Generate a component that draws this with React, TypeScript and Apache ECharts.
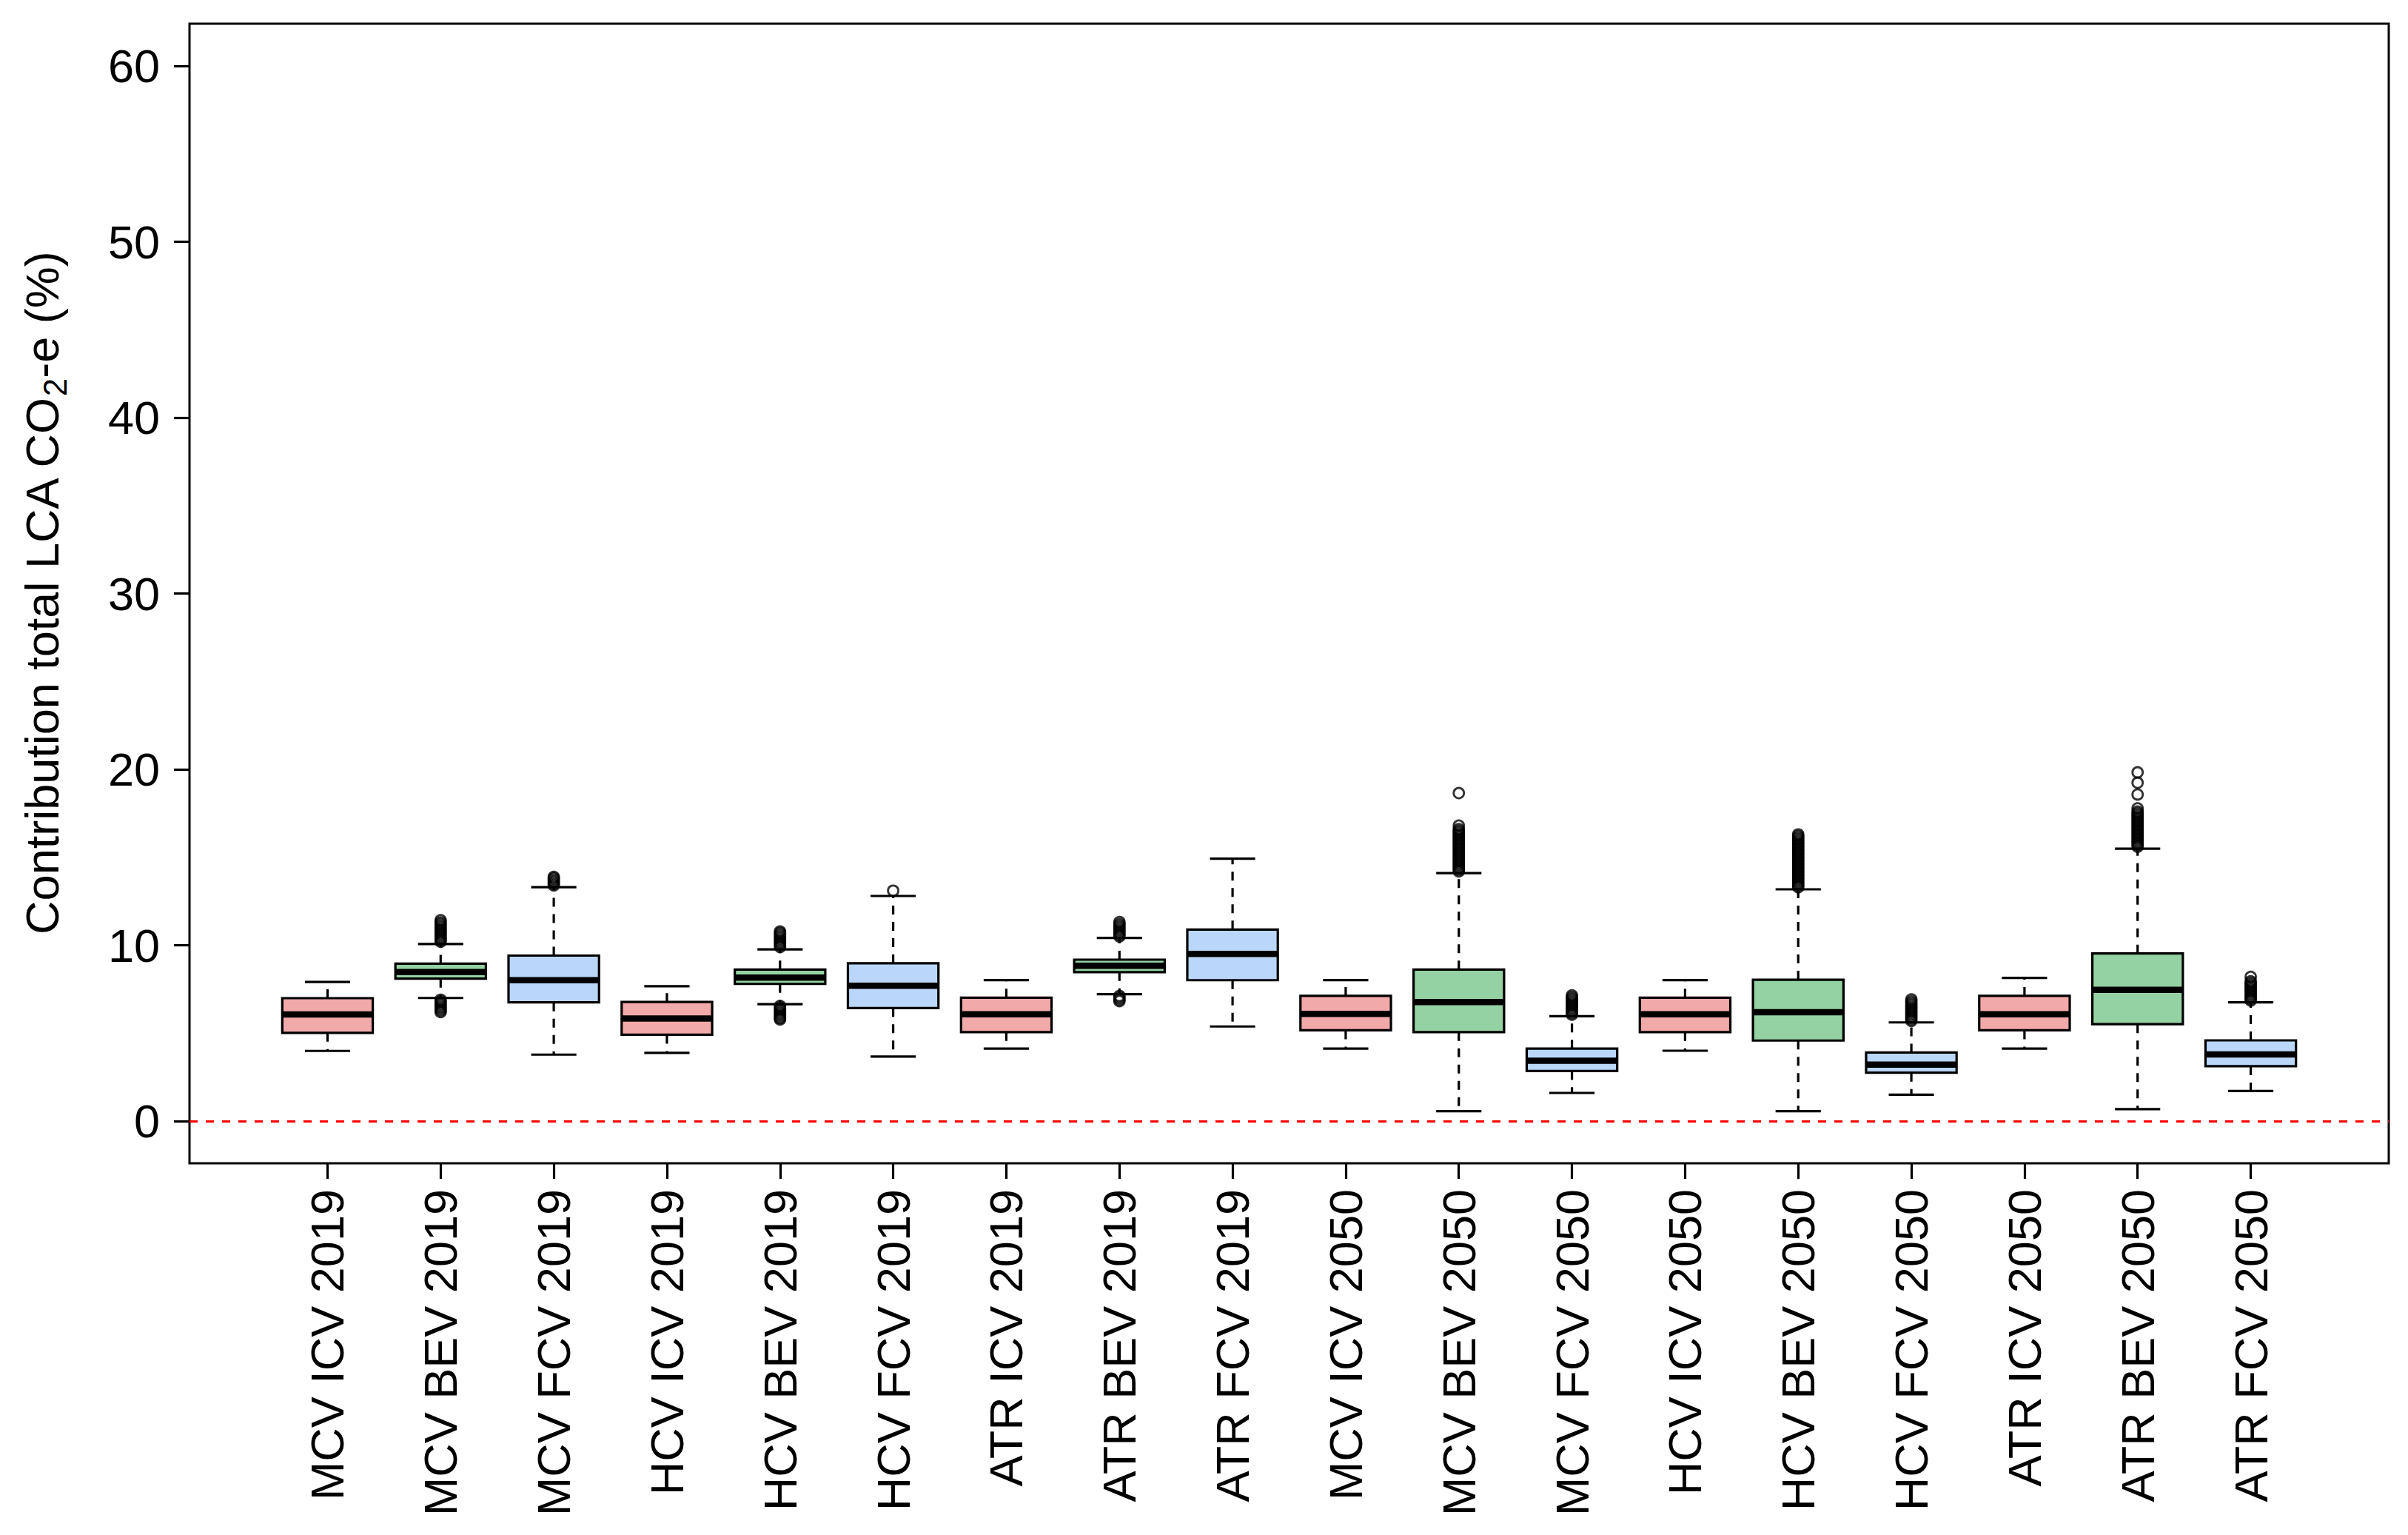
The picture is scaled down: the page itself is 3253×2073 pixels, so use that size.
import React, { useEffect, useRef } from "react";
import * as echarts from "echarts";

const categories = [
  "MCV ICV 2019", "MCV BEV 2019", "MCV FCV 2019",
  "HCV ICV 2019", "HCV BEV 2019", "HCV FCV 2019",
  "ATR ICV 2019", "ATR BEV 2019", "ATR FCV 2019",
  "MCV ICV 2050", "MCV BEV 2050", "MCV FCV 2050",
  "HCV ICV 2050", "HCV BEV 2050", "HCV FCV 2050",
  "ATR ICV 2050", "ATR BEV 2050", "ATR FCV 2050",
];

// 0 = ICV, 1 = BEV, 2 = FCV
const powertrain = [0, 1, 2, 0, 1, 2, 0, 1, 2, 0, 1, 2, 0, 1, 2, 0, 1, 2];
const fillColors = ["#F2A9A9", "#95D2A3", "#BAD7F9"];

const whiskerLow = [3.99, 7.0, 3.78, 3.88, 6.65, 3.67, 4.12, 7.22, 5.38, 4.12, 0.56, 1.6, 4.0, 0.56, 1.5, 4.12, 0.68, 1.71];
const q1 = [5.02, 8.1, 6.75, 4.91, 7.8, 6.43, 5.06, 8.47, 8.01, 5.16, 5.06, 2.85, 5.06, 4.58, 2.75, 5.16, 5.51, 3.12];
const median = [6.06, 8.47, 8.01, 5.83, 8.16, 7.7, 6.07, 8.83, 9.51, 6.09, 6.77, 3.43, 6.07, 6.19, 3.21, 6.07, 7.46, 3.79];
const q3 = [6.99, 8.95, 9.41, 6.77, 8.62, 8.97, 7.02, 9.18, 10.89, 7.12, 8.62, 4.12, 7.02, 8.04, 3.9, 7.12, 9.53, 4.59];
const whiskerHigh = [7.91, 10.07, 13.3, 7.67, 9.76, 12.8, 8.02, 10.42, 14.92, 8.02, 14.1, 5.96, 8.02, 13.18, 5.61, 8.14, 15.49, 6.75];

const outliers: number[][] = [
  [],
  [10.2, 10.3, 10.4, 10.5, 10.6, 10.7, 10.8, 10.9, 11.0, 11.1, 11.2, 11.3, 11.42,
    6.9, 6.8, 6.7, 6.6, 6.5, 6.4, 6.3, 6.2],
  [13.4, 13.5, 13.6, 13.7, 13.8, 13.88],
  [],
  [9.9, 10.0, 10.1, 10.2, 10.3, 10.4, 10.5, 10.6, 10.7, 10.78,
    6.55, 6.45, 6.35, 6.25, 6.15, 6.05, 5.95, 5.85, 5.78],
  [13.1],
  [],
  [10.5, 10.6, 10.7, 10.8, 10.9, 11.0, 11.1, 11.2, 11.32,
    7.12, 7.02, 6.92, 6.82],
  [],
  [],
  [14.2, 14.3, 14.4, 14.5, 14.6, 14.7, 14.8, 14.9, 15.0, 15.1, 15.2, 15.3, 15.4, 15.5,
    15.6, 15.7, 15.8, 15.9, 16.0, 16.1, 16.2, 16.3, 16.4, 16.5, 16.6, 16.8, 18.65],
  [6.05, 6.15, 6.25, 6.35, 6.45, 6.55, 6.65, 6.75, 6.85, 6.95, 7.05, 7.15],
  [],
  [13.3, 13.4, 13.5, 13.6, 13.7, 13.8, 13.9, 14.0, 14.1, 14.2, 14.3, 14.4, 14.5, 14.6,
    14.7, 14.8, 14.9, 15.0, 15.1, 15.2, 15.3, 15.4, 15.5, 15.6, 15.7, 15.8, 15.9, 16.0,
    16.1, 16.2, 16.3],
  [5.7, 5.8, 5.9, 6.0, 6.1, 6.2, 6.3, 6.4, 6.5, 6.6, 6.7, 6.8, 6.92],
  [],
  [15.6, 15.7, 15.8, 15.9, 16.0, 16.1, 16.2, 16.3, 16.4, 16.5, 16.6, 16.7, 16.8, 16.9,
    17.0, 17.1, 17.2, 17.3, 17.4, 17.5, 17.6, 17.78, 18.57, 19.24, 19.83],
  [6.85, 6.95, 7.05, 7.15, 7.25, 7.35, 7.45, 7.55, 7.65, 7.75, 7.85, 7.95, 8.2],
];

const yTicks = [0, 10, 20, 30, 40, 50, 60];

const FONT = "'Liberation Sans', Arial, sans-serif";

export default function App() {
  const ref = useRef<HTMLDivElement>(null);

  useEffect(() => {
    if (!ref.current) return;
    const chart = echarts.init(ref.current, undefined, { renderer: "svg" });

    const boxData = categories.map((_, i) => [
      i + 1, whiskerLow[i], q1[i], median[i], q3[i], whiskerHigh[i], powertrain[i],
    ]);
    const outlierData: number[][] = [];
    outliers.forEach((arr, i) => arr.forEach((v) => outlierData.push([i + 1, v])));
    const positions = categories.map((_, i) => i + 1);

    const lineW = 3.2;

    const option: any = {
      animation: false,
      backgroundColor: "#fff",
      grid: {
        left: 248,
        right: 18,
        top: 24,
        bottom: 494,
        show: true,
        borderColor: "#000",
        borderWidth: 3,
        backgroundColor: "transparent",
      },
      xAxis: {
        type: "value",
        min: -0.22,
        max: 19.22,
        splitLine: { show: false },
        axisLine: { show: false, onZero: false },
        axisTick: {
          show: true,
          customValues: positions,
          length: 21,
          inside: false,
          lineStyle: { color: "#000", width: lineW },
        },
        axisLabel: {
          show: true,
          customValues: positions,
          rotate: 90,
          margin: 35,
          fontSize: 63,
          fontFamily: FONT,
          color: "#000",
          formatter: (v: number) => categories[Math.round(v) - 1] ?? "",
        },
      },
      yAxis: {
        type: "value",
        min: -2.4,
        max: 62.4,
        splitLine: { show: false },
        axisLine: { show: false, onZero: false },
        axisTick: {
          show: true,
          customValues: yTicks,
          length: 21,
          inside: false,
          lineStyle: { color: "#000", width: lineW },
        },
        axisLabel: {
          show: true,
          customValues: yTicks,
          margin: 40,
          fontSize: 63,
          fontFamily: FONT,
          color: "#000",
        },
        name: "Contribution total LCA CO{sub|2}-e (%)",
        nameLocation: "middle",
        nameRotate: 90,
        nameGap: 160,
        nameTextStyle: {
          fontSize: 63,
          fontFamily: FONT,
          color: "#000",
          rich: {
            sub: {
              fontSize: 44,
              fontFamily: FONT,
              color: "#000",
              padding: [34, 0, 0, 0],
            },
          },
        },
      },
      series: [
        {
          type: "custom",
          clip: false,
          data: boxData,
          renderItem: (params: any, api: any) => {
            const x = api.value(0);
            const lo = api.value(1);
            const a = api.value(2);
            const m = api.value(3);
            const b = api.value(4);
            const hi = api.value(5);
            const ci = api.value(6);
            const halfBox = api.size([0.8, 0])[0] / 2;
            const halfCap = api.size([0.4, 0])[0] / 2;
            const pLo = api.coord([x, lo]);
            const pA = api.coord([x, a]);
            const pM = api.coord([x, m]);
            const pB = api.coord([x, b]);
            const pHi = api.coord([x, hi]);
            const cx = pM[0];
            const dashStyle = { stroke: "#000", lineWidth: lineW, lineDash: [12, 10] };
            const solid = { stroke: "#000", lineWidth: lineW };
            return {
              type: "group",
              children: [
                { type: "line", shape: { x1: cx, y1: pB[1], x2: cx, y2: pHi[1] }, style: dashStyle },
                { type: "line", shape: { x1: cx, y1: pA[1], x2: cx, y2: pLo[1] }, style: dashStyle },
                { type: "line", shape: { x1: cx - halfCap, y1: pHi[1], x2: cx + halfCap, y2: pHi[1] }, style: solid },
                { type: "line", shape: { x1: cx - halfCap, y1: pLo[1], x2: cx + halfCap, y2: pLo[1] }, style: solid },
                {
                  type: "rect",
                  shape: { x: cx - halfBox, y: pB[1], width: halfBox * 2, height: pA[1] - pB[1] },
                  style: { fill: fillColors[ci], stroke: "#000", lineWidth: lineW },
                },
                {
                  type: "line",
                  shape: { x1: cx - halfBox, y1: pM[1], x2: cx + halfBox, y2: pM[1] },
                  style: { stroke: "#000", lineWidth: 8.5 },
                },
              ],
            };
          },
        },
        {
          type: "scatter",
          data: outlierData,
          symbol: "circle",
          symbolSize: 14,
          itemStyle: { color: "rgba(0,0,0,0)", borderColor: "#000", borderWidth: 2.8 },
          markLine: {
            silent: true,
            symbol: "none",
            label: { show: false },
            lineStyle: { color: "#FF0000", type: [11, 11], width: 3.2 },
            data: [{ yAxis: 0 }],
          },
        },
      ],
    };

    chart.setOption(option);
    return () => chart.dispose();
  }, []);

  return <div ref={ref} style={{ width: 3237, height: 2057 }} />;
}
